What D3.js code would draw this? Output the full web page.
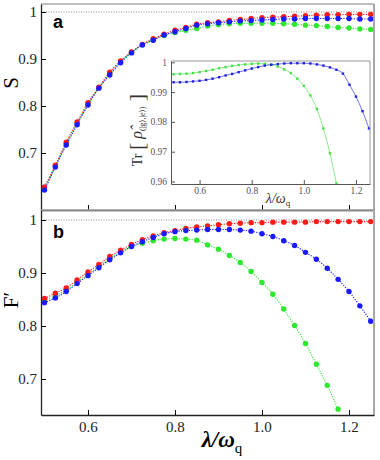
<!DOCTYPE html>
<html>
<head>
<meta charset="utf-8">
<script src="https://cdn.jsdelivr.net/npm/d3@7"></script>
<style>
  body { margin: 0; background: #fff; }
  svg { display: block; }
</style>
</head>
<body>
<svg id="chart" width="380" height="460"></svg>
<script>
// coupling strengths lambda / omega_q
const lam = [0.5, 0.525, 0.55, 0.575, 0.6, 0.625, 0.65, 0.675, 0.7, 0.725, 0.75, 0.775, 0.8, 0.825,
  0.85, 0.875, 0.9, 0.925, 0.95, 0.975, 1.0, 1.025, 1.05, 1.075, 1.1, 1.125, 1.15, 1.175, 1.2, 1.225, 1.25];

// panel a : S
const sRed = [0.628, 0.674, 0.723, 0.766, 0.807, 0.840, 0.872, 0.896, 0.915, 0.931, 0.943, 0.953, 0.961, 0.967,
  0.974, 0.977, 0.979, 0.982, 0.984, 0.986, 0.988, 0.989, 0.990, 0.991, 0.992, 0.993, 0.994, 0.994, 0.995, 0.995, 0.995];
const sGreen = [0.624, 0.672, 0.720, 0.763, 0.804, 0.839, 0.869, 0.894, 0.914, 0.930, 0.941, 0.950, 0.956, 0.961,
  0.965, 0.970, 0.973, 0.975, 0.976, 0.976, 0.976, 0.976, 0.975, 0.974, 0.972, 0.971, 0.969, 0.967, 0.966, 0.964, 0.963];
const sBlue = [0.621, 0.670, 0.717, 0.760, 0.802, 0.838, 0.866, 0.892, 0.913, 0.930, 0.940, 0.951, 0.958, 0.965,
  0.972, 0.975, 0.977, 0.979, 0.981, 0.982, 0.983, 0.984, 0.985, 0.985, 0.986, 0.986, 0.986, 0.986, 0.986, 0.985, 0.985];

// panel b : F'
const fRed = [0.852, 0.862, 0.872, 0.887, 0.902, 0.916, 0.931, 0.943, 0.954, 0.963, 0.970, 0.976, 0.980, 0.984,
  0.987, 0.989, 0.991, 0.993, 0.994, 0.995, 0.995, 0.996, 0.996, 0.996, 0.996, 0.997, 0.997, 0.997, 0.997, 0.997, 0.997];
const fGreen = [0.848, 0.857, 0.868, 0.883, 0.898, 0.913, 0.927, 0.940, 0.950, 0.956, 0.961, 0.964, 0.965, 0.964,
  0.962, 0.953, 0.945, 0.933, 0.920, 0.903, 0.882, 0.860, 0.832, 0.801, 0.767, 0.728, 0.688, 0.643];
const fBlue = [0.844, 0.853, 0.865, 0.880, 0.895, 0.910, 0.925, 0.938, 0.950, 0.959, 0.967, 0.974, 0.978, 0.980,
  0.981, 0.982, 0.982, 0.982, 0.981, 0.979, 0.974, 0.969, 0.961, 0.952, 0.939, 0.926, 0.909, 0.888, 0.865, 0.838, 0.809];

// inset : Tr[rho]
const trGreen = [0.9960, 0.9961, 0.9962, 0.9964, 0.9967, 0.9971, 0.9975, 0.9980, 0.9984, 0.9988, 0.9991, 0.9993, 0.9995,
  0.9996, 0.9995, 0.9992, 0.9986, 0.9976, 0.9964, 0.9945, 0.9921, 0.9889, 0.9843, 0.9778, 0.9695, 0.9593];
const trBlue = [0.9933, 0.9933, 0.9934, 0.9936, 0.9938, 0.9941, 0.9945, 0.9950, 0.9956, 0.9961, 0.9967, 0.9973, 0.9979,
  0.9984, 0.9989, 0.9992, 0.9994, 0.9996, 0.9997, 0.9997, 0.9997, 0.9996, 0.9993, 0.9989, 0.9983, 0.9975, 0.9962,
  0.9925, 0.9885, 0.9836, 0.9778];

const xTicks = [0.6, 0.8, 1.0, 1.2];
const yTicksMain = [0.7, 0.8, 0.9, 1.0];
const yTicksInset = [0.96, 0.97, 0.98, 0.99, 1.0];

const RED = '#ff1a1a', GREEN = '#2ee82e', BLUE = '#1a1aff';
const serif = '"Liberation Serif", "DejaVu Serif", serif';

const svg = d3.select('#chart');

const x = d3.scaleLinear().domain([0.492, 1.2575]).range([41, 374]);
const yTop = d3.scaleLinear().domain([0.5787, 1.017]).range([210, 4]);
const yBot = d3.scaleLinear().domain([0.632, 1.0189]).range([415, 210]);

const xi = d3.scaleLinear().domain([0.4904, 1.2538]).range([171, 370]);
const yi = d3.scaleLinear().domain([0.95916, 1.00044]).range([184, 61]);

const fmtMain = d => d === 1 ? '1' : d3.format('.1f')(d);

function panel(y, top, bottom, series, letter, letterY, label, labelY) {
  const g = svg.append('g');
  const [x0, x1] = x.range();

  // dotted reference line at 1
  g.append('line')
    .attr('x1', x0).attr('x2', x1)
    .attr('y1', y(1)).attr('y2', y(1))
    .attr('stroke', '#888').attr('stroke-width', 1)
    .attr('stroke-dasharray', '1,1.5');

  // series
  series.forEach(s => {
    const pts = s.values.map((v, i) => [lam[i], v]);
    g.append('path')
      .datum(pts)
      .attr('fill', 'none')
      .attr('stroke', s.color)
      .attr('stroke-width', 1.1)
      .attr('stroke-dasharray', '1.2,1.4')
      .attr('d', d3.line().curve(d3.curveMonotoneX).x(d => x(d[0])).y(d => y(d[1])));
    g.selectAll(null)
      .data(pts)
      .join('circle')
      .attr('cx', d => x(d[0]))
      .attr('cy', d => y(d[1]))
      .attr('r', 2.7)
      .attr('fill', s.color);
  });

  // frame: gray top and right
  g.append('line').attr('x1', x0).attr('x2', x1).attr('y1', top).attr('y2', top)
    .attr('stroke', '#a8a8a8').attr('stroke-width', 1.5);
  g.append('line').attr('x1', x1).attr('x2', x1).attr('y1', top).attr('y2', bottom)
    .attr('stroke', '#a8a8a8').attr('stroke-width', 2);

  // left axis
  const left = g.append('g').attr('transform', `translate(${x0},0)`);
  left.call(d3.axisLeft(y).tickValues(d3.range(0.64, 1.011, 0.02)).tickSize(-2.5).tickFormat(''));
  left.call(d3.axisLeft(y).tickValues(yTicksMain).tickSizeInner(-5).tickSizeOuter(0).tickPadding(4).tickFormat(fmtMain));
  left.attr('font-family', serif);
  left.selectAll('text').attr('font-family', serif).attr('font-size', 15).attr('fill', '#222');
  left.selectAll('path.domain').attr('stroke', '#222').attr('stroke-width', 1.3);

  // bottom axis
  const bot = g.append('g').attr('transform', `translate(0,${bottom})`);
  bot.call(d3.axisBottom(x).tickValues(d3.range(0.5, 1.26, 0.02)).tickSize(-2.5).tickFormat(''));
  bot.call(d3.axisBottom(x).tickValues(xTicks).tickSizeInner(-5).tickSizeOuter(0).tickPadding(6)
    .tickFormat(letter === 'b' ? d3.format('.1f') : ''));
  bot.attr('font-family', serif);
  bot.selectAll('text').attr('font-family', serif).attr('font-size', 15).attr('fill', '#222');
  bot.selectAll('path.domain').attr('stroke', '#222').attr('stroke-width', 1.3);

  g.append('text')
    .attr('x', 53).attr('y', letterY)
    .attr('font-family', '"Liberation Sans", Arial, sans-serif')
    .attr('font-weight', 'bold').attr('font-size', 18)
    .text(letter);

  g.append('text')
    .attr('transform', `translate(18,${labelY}) rotate(-90)`)
    .attr('text-anchor', 'middle')
    .attr('font-family', serif).attr('font-size', 21)
    .text(label);
  return g;
}

panel(yTop, 4, 210, [
  { values: sGreen, color: GREEN },
  { values: sRed, color: RED },
  { values: sBlue, color: BLUE }
], 'a', 28, 'S', 83);

panel(yBot, 210, 415, [
  { values: fGreen, color: GREEN },
  { values: fRed, color: RED },
  { values: fBlue, color: BLUE }
], 'b', 238, 'F\u2032', 300);

// x label
const xl = svg.append('text')
  .attr('x', 222).attr('y', 447)
  .attr('text-anchor', 'middle')
  .attr('font-family', serif).attr('font-size', 23)
  .attr('font-weight', 'bold');
xl.append('tspan').attr('font-style', 'italic').text('\u03bb/\u03c9');
xl.append('tspan').attr('font-size', 15).attr('font-weight', 'normal').attr('dy', 6).text('q');

// ---------- inset ----------
const ig = svg.append('g');
const [ix0, ix1] = xi.range();
const [iy1, iy0] = yi.range();
ig.append('rect')
  .attr('x', ix0).attr('y', iy0).attr('width', ix1 - ix0).attr('height', iy1 - iy0)
  .attr('fill', '#fff');

[{ values: trGreen, color: '#44e044' }, { values: trBlue, color: '#2020e0' }].forEach(s => {
  const pts = s.values.map((v, i) => [lam[i], v]);
  ig.append('path')
    .datum(pts)
    .attr('fill', 'none')
    .attr('stroke', s.color)
    .attr('stroke-opacity', 0.7)
    .attr('stroke-width', 0.9)
    .attr('d', d3.line().curve(d3.curveMonotoneX).x(d => xi(d[0])).y(d => yi(d[1])));
  ig.selectAll(null)
    .data(pts)
    .join('rect')
    .attr('x', d => xi(d[0]) - 1.2)
    .attr('y', d => yi(d[1]) - 1.2)
    .attr('width', 2.4).attr('height', 2.4)
    .attr('fill', s.color);
});

ig.append('line').attr('x1', ix0).attr('x2', ix1).attr('y1', iy0).attr('y2', iy0)
  .attr('stroke', '#999').attr('stroke-width', 1);
ig.append('line').attr('x1', ix1).attr('x2', ix1).attr('y1', iy0).attr('y2', iy1)
  .attr('stroke', '#999').attr('stroke-width', 1);

const il = ig.append('g').attr('transform', `translate(${ix0},0)`);
il.call(d3.axisLeft(yi).tickValues(d3.range(0.96, 1.0001, 0.002)).tickSize(-2).tickFormat(''));
il.call(d3.axisLeft(yi).tickValues(yTicksInset).tickSizeInner(-4).tickSizeOuter(0).tickPadding(4)
  .tickFormat(d => d === 1 ? '1' : d3.format('.2f')(d)));
il.selectAll('text').attr('font-family', serif).attr('font-size', 9.5).attr('fill', '#555');
il.selectAll('path, line').attr('stroke', '#555');

const ib = ig.append('g').attr('transform', `translate(0,${iy1})`);
ib.call(d3.axisBottom(xi).tickValues(d3.range(0.5, 1.26, 0.05)).tickSize(-2).tickFormat(''));
ib.call(d3.axisBottom(xi).tickValues(xTicks).tickSizeInner(-4).tickSizeOuter(0).tickPadding(3)
  .tickFormat(d3.format('.1f')));
ib.selectAll('text').attr('font-family', serif).attr('font-size', 9.5).attr('fill', '#555');
ib.selectAll('path, line').attr('stroke', '#555');

const ixl = ig.append('text')
  .attr('x', 278).attr('y', 203)
  .attr('text-anchor', 'middle')
  .attr('font-family', serif).attr('font-size', 14).attr('fill', '#333');
ixl.append('tspan').attr('font-style', 'italic').text('\u03bb/\u03c9');
ixl.append('tspan').attr('font-size', 9).attr('dy', 3).text('q');

const iyl = ig.append('text')
  .attr('transform', 'translate(142,130) rotate(-90)')
  .attr('text-anchor', 'middle')
  .attr('font-family', serif).attr('font-size', 14).attr('fill', '#333');
iyl.append('tspan').text('Tr ');
iyl.append('tspan').attr('font-size', 22).attr('dy', 2).text('[');
iyl.append('tspan').attr('font-style', 'italic').attr('font-size', 16).attr('dy', -2).text(' \u03c1\u0302');
iyl.append('tspan').attr('font-size', 8).attr('dy', 3).text('(|g\u27e9,|e\u27e9)');
iyl.append('tspan').attr('font-size', 22).attr('dy', -1).text(' ]');
</script>
</body>
</html>
